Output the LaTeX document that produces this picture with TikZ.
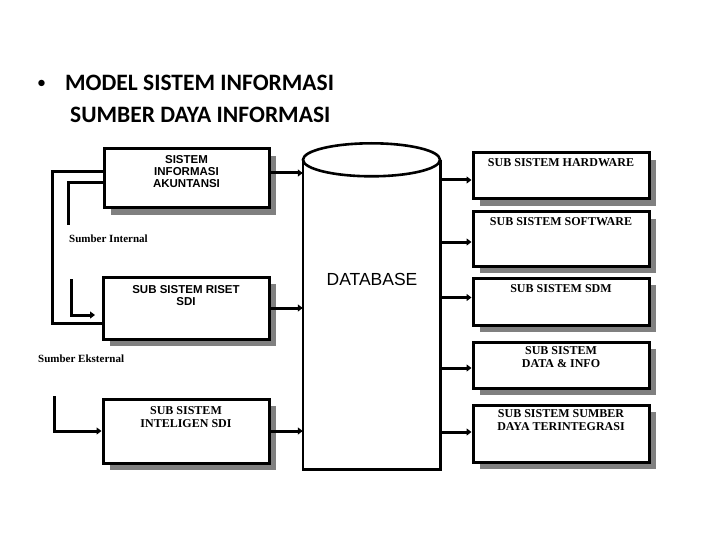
\documentclass[tikz,border=0pt]{standalone}
\usepackage{fontspec}
\setmainfont{Liberation Serif}
\setsansfont{Liberation Sans}
\newfontfamily\titlefont{Carlito}
\usetikzlibrary{shadows,arrows.meta}

\begin{document}
\begin{tikzpicture}[x=1pt,y=-1pt,
  line join=miter,
  box/.style={draw=black, line width=3pt, fill=white,
    general shadow={fill=black!50, shadow xshift=7pt, shadow yshift=-7pt}, inner sep=0pt},
  lbl/.style={align=center, inner sep=0pt, anchor=north},
  sanslbl/.style={lbl, font=\sffamily\bfseries\fontsize{11.5}{12}\selectfont},
  seriflbl/.style={lbl, font=\bfseries\fontsize{12}{13}\selectfont},
  conn/.style={line width=3pt},
  arr/.style={line width=3pt, -{Triangle[length=5pt,width=7pt]}},
  ttl/.style={font=\titlefont\bfseries\fontsize{23.5}{28}\selectfont, inner sep=0pt, anchor=base west},
]
\fill[white] (0,0) rectangle (720,540);
\useasboundingbox (0,0) rectangle (720,540);

% title
\node[ttl, font=\titlefont\fontsize{18}{20}\selectfont] (bul) at (37,89) {•};
\node[ttl] (t1) at (65,91) {MODEL SISTEM INFORMASI};
\node[ttl] (t2) at (70,123) {SUMBER DAYA INFORMASI};

% database
\node[minimum width=137, minimum height=309, inner sep=0pt] (db) at (371.5,314.5) {};
\draw[line width=2.6pt] (db.north west) -- (db.south west) -- (db.south east) -- (db.north east);
\draw[line width=2.6pt, fill=white] (db.north) ellipse [x radius=68.5, y radius=16.5];
\node[font=\sffamily\fontsize{17.5}{20}\selectfont, inner sep=0pt] (dbt) at (372,279) {DATABASE};

% left boxes
\node[box, minimum width=165, minimum height=59] (sia) at (186.5,178.5) {};
\node[sanslbl] (siat) at ([yshift=-8pt]sia.north) {SISTEM\\INFORMASI\\AKUNTANSI};
\node[box, minimum width=166, minimum height=62] (riset) at (186,308) {};
\node[sanslbl] (risett) at ([yshift=-10pt]riset.north) {SUB SISTEM RISET\\SDI};
\node[box, minimum width=166, minimum height=64] (intel) at (186,431) {};
\node[seriflbl] (intelt) at ([yshift=-9pt]intel.north) {SUB SISTEM\\INTELIGEN SDI};

% right boxes
\node[box, minimum width=176, minimum height=46] (hw) at (561,176) {};
\node[seriflbl] (hwt) at ([yshift=-7pt]hw.north) {SUB SISTEM HARDWARE};
\node[box, minimum width=176, minimum height=54] (sw) at (561,239) {};
\node[seriflbl] (swt) at ([yshift=-7pt]sw.north) {SUB SISTEM SOFTWARE};
\node[box, minimum width=176, minimum height=47] (sdm) at (561,301.5) {};
\node[seriflbl] (sdmt) at ([yshift=-8pt]sdm.north) {SUB SISTEM SDM};
\node[box, minimum width=176, minimum height=46] (di) at (561,365) {};
\node[seriflbl] (dit) at ([yshift=-6pt]di.north) {SUB SISTEM\\DATA \& INFO};
\node[box, minimum width=176, minimum height=57] (sdt) at (561,433.5) {};
\node[seriflbl] (sdtt) at ([yshift=-6pt]sdt.north) {SUB SISTEM SUMBER\\DAYA TERINTEGRASI};

% labels
\node[font=\bfseries\fontsize{11}{12}\selectfont, inner sep=0pt, anchor=west] (sint) at (69,239) {Sumber Internal};
\node[font=\bfseries\fontsize{11}{12}\selectfont, inner sep=0pt, anchor=west] (sext) at (38,359) {Sumber Eksternal};

% left connectors
\draw[conn] ([yshift=6.5pt]sia.west) -- ++(-50,0) |- ([yshift=-15pt]riset.west);
\coordinate (in1) at (68,225);
\draw[conn] ([yshift=-4.5pt]sia.west) -| (in1);
\coordinate (in2) at (71,279);
\coordinate (in3) at (95,315);
\draw[arr] (in2) |- (in3);
\coordinate (ex1) at (54,396);
\draw[arr] (ex1) |- (intel.west);

% to database
\draw[arr] ([yshift=5.5pt]sia.east) -- ([yshift=5.5pt]sia.east -| db.west);
\draw[arr] (riset.east) -- (riset.east -| db.west);
\draw[arr] (intel.east) -- (intel.east -| db.west);

% from database
\draw[arr] ([yshift=-4pt]hw.west -| db.east) -- ([yshift=-4pt]hw.west);
\draw[arr] ([yshift=-3pt]sw.west -| db.east) -- ([yshift=-3pt]sw.west);
\draw[arr] ([yshift=4pt]sdm.west -| db.east) -- ([yshift=4pt]sdm.west);
\draw[arr] ([yshift=-3pt]di.west -| db.east) -- ([yshift=-3pt]di.west);
\draw[arr] ([yshift=1.5pt]sdt.west -| db.east) -- ([yshift=1.5pt]sdt.west);
\end{tikzpicture}
\end{document}
